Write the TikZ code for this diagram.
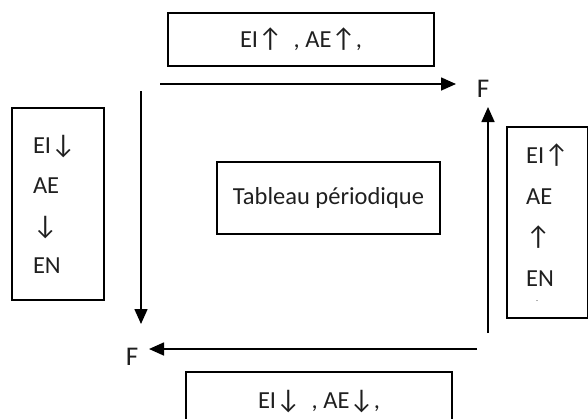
\documentclass[tikz,border=0pt]{standalone}
\usepackage{fontspec}
\setmainfont{Carlito}
\newfontfamily\arrowfont{Carlito}
\usetikzlibrary{arrows.meta}
\newcommand{\up}{{\arrowfont\fontsize{27}{27}\selectfont ↑}}
\newcommand{\dn}{{\arrowfont\fontsize{27}{27}\selectfont ↓}}

\begin{document}
\begin{tikzpicture}[x=1pt,y=-1pt,
  box/.style={draw,line width=1.6pt,inner sep=0pt},
  lbl/.style={font=\fontsize{24.5}{41}\selectfont,text=black!88},
  flow/.style={line width=1.6pt,-{Triangle[length=15pt,width=13pt]}}]
\useasboundingbox (0,0) rectangle (588,418);

% boxes round the picture
\node [box,lbl,minimum width=266pt,minimum height=53pt] (top) at (301,39.5) {EI\up\ \ , AE\up,};
\node [box,lbl,minimum width=92pt,minimum height=192pt,align=left,text width=50pt] (left) at (58,204) {EI\dn\\[-1pt]AE\\\dn\\[-2pt]EN\\[-14pt]};
\node [box,lbl,minimum width=223pt,minimum height=72pt] (mid) at (328.5,198) {Tableau périodique};
\node [box,lbl,minimum width=81pt,minimum height=191pt,align=left] (right) at (547.5,222.5) {EI\up\\AE\\\up\\EN\\[-26pt]{\fontsize{8}{8}\selectfont\hspace*{10pt}.}};
\node [box,lbl,minimum width=266pt,minimum height=60pt] (bot) at (319,402) {EI\dn\ \ , AE\dn,};

% the two F
\node [lbl,font=\fontsize{27}{27}\selectfont] (Fa) at (483,89) {F};
\node [lbl,font=\fontsize{27}{27}\selectfont] (Fb) at (132,357) {F};

\coordinate (a0) at (160,84);  \coordinate (a1) at (456,84);
\coordinate (b0) at (488,333); \coordinate (b1) at (488,107);
\coordinate (c0) at (477,349); \coordinate (c1) at (149,349);
\coordinate (d0) at (141,91);  \coordinate (d1) at (141,324);

\draw [flow] (a0) -- (a1);
\draw [flow] (b0) -- (b1);
\draw [flow] (c0) -- (c1);
\draw [flow] (d0) -- (d1);

\end{tikzpicture}
\end{document}
